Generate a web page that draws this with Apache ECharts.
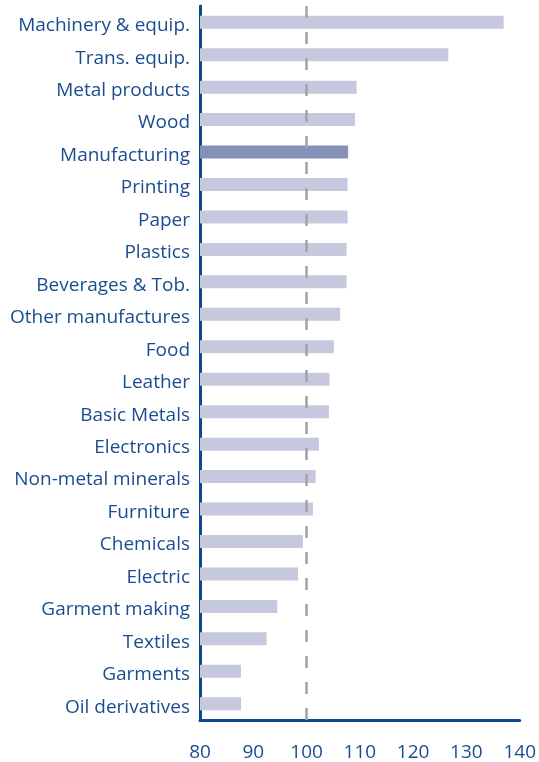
<!DOCTYPE html>
<html>
<head>
<meta charset="utf-8">
<script src="https://cdn.jsdelivr.net/npm/echarts@6/dist/echarts.min.js"></script>
<style>
  html, body { margin: 0; padding: 0; background: #fff; }
  #chart { width: 539px; height: 762px; }
</style>
</head>
<body>
<div id="chart"></div>
<script>
// sectors, top to bottom
var sectors = ['Machinery & equip.', 'Trans. equip.', 'Metal products', 'Wood', 'Manufacturing',
  'Printing', 'Paper', 'Plastics', 'Beverages & Tob.', 'Other manufactures', 'Food', 'Leather',
  'Basic Metals', 'Electronics', 'Non-metal minerals', 'Furniture', 'Chemicals', 'Electric',
  'Garment making', 'Textiles', 'Garments', 'Oil derivatives'];
var values = [137.0, 126.6, 109.4, 109.1, 107.8, 107.7, 107.7, 107.5, 107.5, 106.3, 105.1, 104.3,
  104.2, 102.3, 101.7, 101.2, 99.3, 98.4, 94.5, 92.5, 87.7, 87.7];
var xTicks = [80, 90, 100, 110, 120, 130, 140];
var refLine = 100;
var highlight = 'Manufacturing';

var chart = echarts.init(document.getElementById('chart'));
var font = 'Open Sans';
var blue = '#1a4d8f';

var option = {
  animation: false,
  grid: { left: 200, top: 6, width: 321, bottom: 42 },
  xAxis: {
    type: 'value',
    min: xTicks[0],
    max: xTicks[xTicks.length - 1],
    interval: 10,
    axisLine: { show: true, lineStyle: { color: '#0b4a91', width: 3 } },
    axisTick: { show: false },
    splitLine: { show: false },
    axisLabel: { color: blue, fontSize: 19, fontFamily: font, margin: 23 }
  },
  yAxis: {
    type: 'category',
    inverse: true,
    data: sectors,
    axisLine: { show: true, lineStyle: { color: '#0b4a91', width: 3 } },
    axisTick: { show: false },
    axisLabel: {
      margin: 10,
      formatter: function (v) { return '{t|' + v + '}'; },
      rich: { t: { color: blue, fontSize: 19, fontFamily: font, padding: [7, 0, 0, 0] } }
    }
  },
  series: [{
    type: 'bar',
    barWidth: 13,
    data: values.map(function (v, i) {
      return {
        value: v,
        itemStyle: { color: sectors[i] === highlight ? '#8690b8' : '#c6c8de' }
      };
    }),
    markLine: {
      silent: true,
      symbol: 'none',
      label: { show: false },
      lineStyle: { color: '#a3a3a3', width: 2.5, type: [12, 14] },
      data: [{ xAxis: refLine }]
    },
    z: 2
  }]
};
chart.setOption(option);
</script>
</body>
</html>
